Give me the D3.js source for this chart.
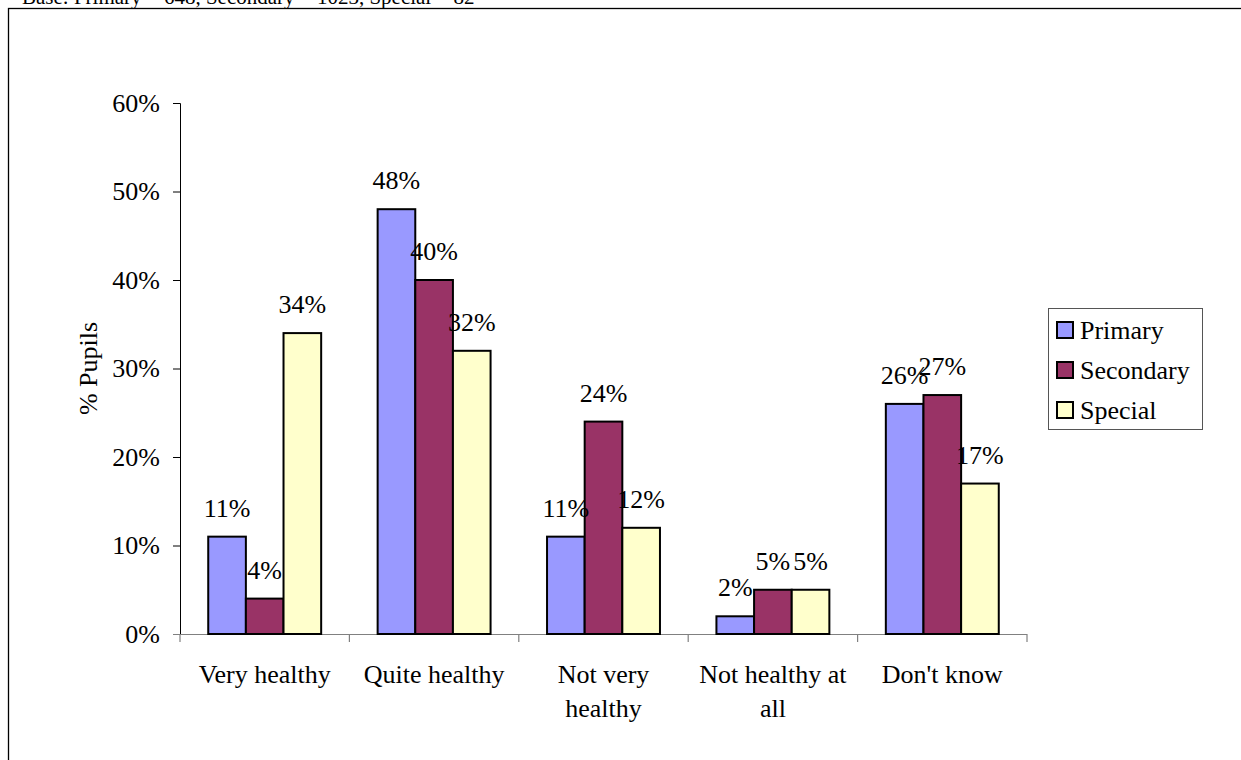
<!DOCTYPE html>
<html><head><meta charset="utf-8">
<script src="https://cdn.jsdelivr.net/npm/d3@7"></script>
<style>
body{margin:0;background:#fff;}
svg{display:block;font-family:"Liberation Serif","Times New Roman",serif;}
</style></head>
<body>
<svg id="chart" width="1241" height="760"></svg>
<script>
const categories = ["Very healthy", "Quite healthy", "Not very healthy", "Not healthy at all", "Don't know"];
const seriesNames = ["Primary", "Secondary", "Special"];
const primary = [11, 48, 11, 2, 26];
const secondary = [4, 40, 24, 5, 27];
const special = [34, 32, 12, 5, 17];
const yTicks = [0, 10, 20, 30, 40, 50, 60];
const colors = ["#9999FF", "#993366", "#FFFFCC"];
const baseNote = "Base: Primary = 648, Secondary = 1023, Special = 82";
const yTitle = "% Pupils";

const values = [primary, secondary, special];
const svg = d3.select("#chart");
const FS = 26;

// frame
svg.append("rect").attr("x", 8.5).attr("y", 8.5).attr("width", 1300).attr("height", 900)
  .attr("fill", "none").attr("stroke", "#000").attr("stroke-width", 1.3);

// base note (cut at top, as in the source)
svg.append("text").attr("x", 22).attr("y", 4).attr("font-size", 21).attr("fill", "#000").text(baseNote);

const plot = {left: 180, right: 1027, top: 103, bottom: 634};
const x0 = d3.scaleBand().domain(categories).range([plot.left, plot.right]).paddingInner(0).paddingOuter(0);
const x1 = d3.scaleBand().domain(seriesNames).range([0, x0.bandwidth()]).paddingInner(0).paddingOuter(0.75);
const y = d3.scaleLinear().domain([0, 60]).range([plot.bottom, plot.top]);

// y axis
const yAxis = d3.axisLeft(y).tickValues(yTicks).tickFormat(d => d + "%").tickSize(7).tickPadding(13);
const gy = svg.append("g").attr("transform", `translate(${plot.left},0)`).call(yAxis);
gy.select(".domain").attr("stroke", "#000").attr("stroke-width", 1);
gy.selectAll(".tick line").attr("stroke", "#000");
gy.selectAll("text").attr("font-size", FS).attr("font-family", "Liberation Serif").attr("fill", "#000");

// x axis
const xAxisG = svg.append("g").attr("transform", `translate(0,${plot.bottom})`);
xAxisG.append("line").attr("x1", plot.left - 7).attr("x2", plot.right).attr("y1", 0.5).attr("y2", 0.5)
  .attr("stroke", "#808080").attr("stroke-width", 1.2);
const boundaries = categories.map(c => x0(c)).concat([plot.right]);
xAxisG.selectAll("line.xt").data(boundaries).enter().append("line").attr("class", "xt")
  .attr("x1", d => d).attr("x2", d => d).attr("y1", 0).attr("y2", 8)
  .attr("stroke", "#808080").attr("stroke-width", 1.2);

// x labels with wrapping
const xl = xAxisG.selectAll("text.xl").data(categories).enter().append("text").attr("class", "xl")
  .attr("x", d => x0(d) + x0.bandwidth() / 2).attr("y", 49)
  .attr("text-anchor", "middle").attr("font-size", FS).attr("fill", "#000");
xl.each(function(d) {
  const t = d3.select(this);
  const words = d.split(" ");
  let line = [];
  let ts = t.append("tspan").attr("x", t.attr("x")).attr("dy", 0);
  words.forEach(w => {
    line.push(w);
    ts.text(line.join(" "));
    if (ts.node().getComputedTextLength() > 160 && line.length > 1) {
      line.pop();
      ts.text(line.join(" "));
      line = [w];
      ts = t.append("tspan").attr("x", t.attr("x")).attr("dy", 34).text(w);
    }
  });
});

// bars
const groups = svg.selectAll("g.cat").data(categories).enter().append("g").attr("class", "cat")
  .attr("transform", d => `translate(${x0(d)},0)`);
groups.each(function(c, ci) {
  const g = d3.select(this);
  const data = seriesNames.map((s, si) => ({s, si, v: values[si][ci]}));
  g.selectAll("rect").data(data).enter().append("rect")
    .attr("x", d => x1(d.s)).attr("y", d => y(d.v))
    .attr("width", x1.bandwidth()).attr("height", d => y(0) - y(d.v))
    .attr("fill", d => colors[d.si]).attr("stroke", "#000").attr("stroke-width", 2);
});
groups.each(function(c, ci) {
  const g = d3.select(this);
  const data = seriesNames.map((s, si) => ({s, si, v: values[si][ci]}));
  g.selectAll("text.lbl").data(data).enter().append("text").attr("class", "lbl")
    .attr("x", d => x1(d.s) + x1.bandwidth() / 2).attr("y", d => y(d.v) - 20)
    .attr("text-anchor", "middle").attr("font-size", FS).attr("fill", "#000")
    .text(d => d.v + "%");
});

// y title
svg.append("text").attr("transform", `translate(97,${(plot.top + plot.bottom) / 2}) rotate(-90)`)
  .attr("text-anchor", "middle").attr("font-size", FS).attr("fill", "#000").text(yTitle);

// legend
const lg = svg.append("g").attr("transform", "translate(1048,308)");
lg.append("rect").attr("x", 0.5).attr("y", 0.5).attr("width", 154).attr("height", 121)
  .attr("fill", "#fff").attr("stroke", "#555").attr("stroke-width", 1);
const items = lg.selectAll("g.item").data(seriesNames).enter().append("g").attr("class", "item")
  .attr("transform", (d, i) => `translate(0,${22 + i * 40})`);
items.append("rect").attr("x", 9).attr("y", -8).attr("width", 16).attr("height", 16)
  .attr("fill", (d, i) => colors[i]).attr("stroke", "#000").attr("stroke-width", 2);
items.append("text").attr("x", 32).attr("y", 9).attr("font-size", FS).attr("fill", "#000").text(d => d);
</script>
</body></html>
